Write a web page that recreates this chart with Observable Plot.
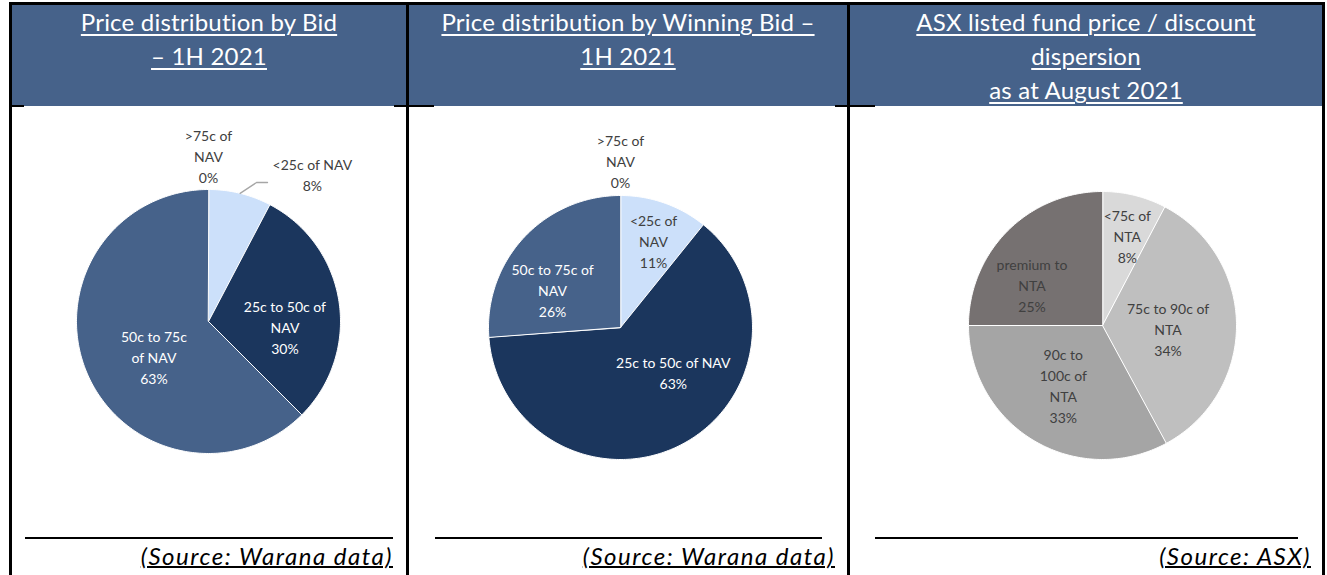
<!DOCTYPE html>
<html><head><meta charset="utf-8">
<script src="https://cdn.jsdelivr.net/npm/d3@7"></script>
<script src="https://cdn.jsdelivr.net/npm/@observablehq/plot@0.6"></script>
<style>
body{margin:0;background:#fff;font-family:Lato,"Open Sans",sans-serif;}
#root{position:relative;width:1327px;height:575px;overflow:hidden;background:#fff;}
.abs{position:absolute;}
.title{position:absolute;color:#fff;font-size:24px;line-height:34px;text-align:center;text-decoration:underline;text-decoration-thickness:1.5px;text-underline-offset:3px;white-space:nowrap;letter-spacing:0.2px;}
.src{position:absolute;font-size:24px;font-style:italic;letter-spacing:1.5px;text-decoration:underline;text-decoration-thickness:1.5px;text-align:right;color:#000;white-space:nowrap;}
</style></head><body><div id="root"></div>
<script>
// ---- data ----
const bidCategories = ["<25c of NAV", "25c to 50c of NAV", "50c to 75c of NAV", ">75c of NAV"];
const bidShares = [7.7, 29.8, 62.5, 0];
const bidLabelNames = ["<25c of NAV", "25c to 50c of\nNAV", "50c to 75c\nof NAV", ">75c of\nNAV"];

const winCategories = ["<25c of NAV", "25c to 50c of NAV", "50c to 75c of NAV", ">75c of NAV"];
const winShares = [10.8, 63.0, 26.2, 0];
const winLabelNames = ["<25c of\nNAV", "25c to 50c of NAV", "50c to 75c of\nNAV", ">75c of\nNAV"];

const asxCategories = ["<75c of NTA", "75c to 90c of NTA", "90c to 100c of NTA", "premium to NTA"];
const asxShares = [7.7, 34.4, 32.9, 25.0];
const asxLabelNames = ["<75c of\nNTA", "75c to 90c of\nNTA", "90c to\n100c of\nNTA", "premium to\nNTA"];

const titles = [
  ["Price distribution by Bid", "– 1H 2021"],
  ["Price distribution by Winning Bid –", "1H 2021"],
  ["ASX listed fund price / discount", "dispersion", "as at August 2021"]
];
const sources = ["(Source: Warana data)", "(Source: Warana data)", "(Source: ASX)"];

// ---- styles / layout ----
const HEADER = "#46628A";
const blueColors = ["#CCE0FA", "#1B365D", "#46628A", "#8EA9DB"];
const greyColors = ["#D9D9D9", "#BFBFBF", "#A5A5A5", "#767171"];

const root = document.getElementById("root");
function box(x, y, w, h, bg) {
  const d = document.createElement("div");
  d.className = "abs";
  Object.assign(d.style, {left: x + "px", top: y + "px", width: w + "px", height: h + "px", background: bg});
  root.appendChild(d);
  return d;
}

// header band
box(11, 4, 1312, 102, HEADER);
// frame lines
box(9, 2, 1316, 3, "#000");
box(9, 2, 3, 573, "#000");
box(406, 2, 3, 573, "#000");
box(847, 2, 3, 573, "#000");
box(1322, 2, 3, 573, "#000");
box(9, 105, 15, 2, "#000");
box(394, 105, 40, 2, "#000");
box(835, 105, 40, 2, "#000");

const panels = [
  {left: 12, width: 394},
  {left: 409, width: 438},
  {left: 850, width: 472}
];

titles.forEach((lines, i) => {
  const p = panels[i];
  const t = document.createElement("div");
  t.className = "title";
  Object.assign(t.style, {left: p.left + "px", width: p.width + "px", top: "5px"});
  t.innerHTML = lines.map(l => `<div>${l.replace(/</g, "&lt;")}</div>`).join("");
  root.appendChild(t);
});

// footer rules and sources
const rules = [[25, 393], [435, 822], [875, 1298]];
const srcRight = [393, 835, 1311];
rules.forEach(([a, b], i) => {
  box(a, 537, b - a, 2, "#000");
  const s = document.createElement("div");
  s.className = "src";
  Object.assign(s.style, {right: (1327 - srcRight[i]) + "px", top: "541px"});
  s.textContent = sources[i];
  root.appendChild(s);
});

function pieChart({cats, values, names, colors, lightText, cx, cy, r, panel, place, leader}) {
  const top = 108, height = 420;
  const total = d3.sum(values);
  let acc = 0;
  const slices = cats.map((k, i) => {
    const a0 = acc / total * 360; acc += values[i];
    const a1 = acc / total * 360;
    return {k, i, a0, a1, mid: (a0 + a1) / 2, v: values[i]};
  });
  const rad = d => d * Math.PI / 180;
  const pol = (deg, f) => ({x: Math.sin(rad(deg)) * f, y: Math.cos(rad(deg)) * f});
  const pts = [];
  for (const s of slices) {
    if (s.v <= 0) continue;
    pts.push({k: s.k, x: 0, y: 0});
    const n = Math.max(2, Math.ceil(s.a1 - s.a0));
    for (let j = 0; j <= n; j++) pts.push({k: s.k, ...pol(s.a0 + (s.a1 - s.a0) * j / n, 1)});
  }
  const labels = slices.map(s => {
    const [dAng, f] = place[s.i];
    return {k: s.k, light: lightText[s.i], text: names[s.i] + "\n" + Math.round(s.v) + "%", ...pol(s.mid + dAng, f)};
  });
  const marks = [
    Plot.line(pts, {x: "x", y: "y", z: "k", fill: "k", stroke: "#fff", strokeWidth: 1, curve: "linear-closed"}),
    Plot.text(labels.filter(d => !d.light), {x: "x", y: "y", text: "text", fill: "#404040", fontSize: 14, lineHeight: 1.5}),
    Plot.text(labels.filter(d => d.light), {x: "x", y: "y", text: "text", fill: "#fff", fontSize: 14, lineHeight: 1.5})
  ];
  if (leader) {
    const s = slices[leader.slice];
    const p0 = pol(s.mid, 1), p1 = pol(s.mid + leader.dAng, leader.f);
    const p2 = {x: p1.x + leader.tail, y: p1.y};
    marks.push(Plot.line([p0, p1, p2], {x: "x", y: "y", stroke: "#A6A6A6", strokeWidth: 1.3}));
  }
  const chart = Plot.plot({
    width: panel.width, height,
    margin: 0,
    style: {background: "transparent", fontFamily: "Lato, sans-serif"},
    x: {domain: [(panel.left - cx) / r, (panel.left + panel.width - cx) / r], axis: null},
    y: {domain: [(cy - top - height) / r, (cy - top) / r], axis: null},
    color: {domain: cats, range: colors},
    marks
  });
  chart.style.position = "absolute";
  chart.style.left = panel.left + "px";
  chart.style.top = top + "px";
  root.appendChild(chart);
}

pieChart({
  cats: bidCategories, values: bidShares, names: bidLabelNames, colors: blueColors,
  lightText: [false, true, true, false],
  cx: 208, cy: 321, r: 132, panel: panels[0],
  place: [[21.2, 1.37], [12.3, 0.58], [-10, 0.49], [0, 1.26]],
  leader: {slice: 0, dAng: 5.2, f: 1.114, tail: 11 / 132}
});
pieChart({
  cats: winCategories, values: winShares, names: winLabelNames, colors: blueColors,
  lightText: [false, true, true, false],
  cx: 620, cy: 327, r: 132, panel: panels[1],
  place: [[1.2, 0.71], [-22.6, 0.52], [-13.6, 0.59], [0, 1.27]]
});
pieChart({
  cats: asxCategories, values: asxShares, names: asxLabelNames, colors: greyColors,
  lightText: [false, false, false, false],
  cx: 1102, cy: 325, r: 134, panel: panels[2],
  place: [[1.5, 0.70], [3, 0.49], [2.7, 0.53], [-14.6, 0.61]]
});
</script></body></html>
